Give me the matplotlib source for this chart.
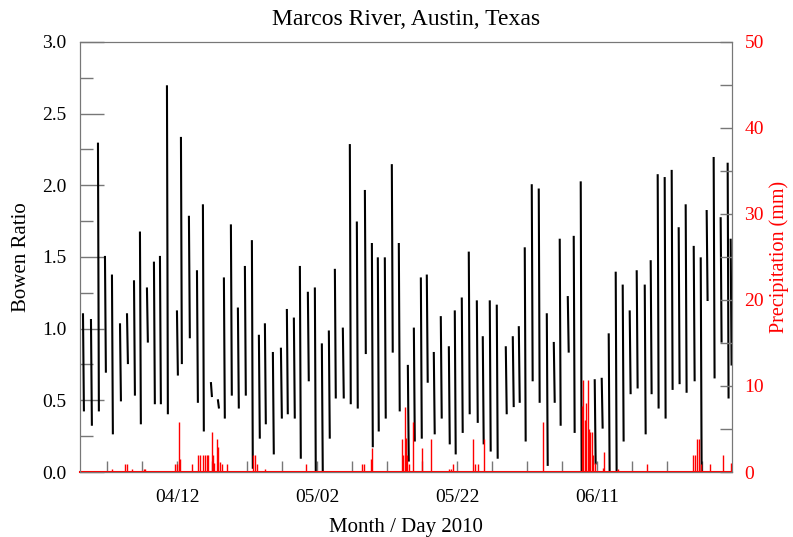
import numpy as np
import pandas as pd
import matplotlib
matplotlib.use("Agg")
import matplotlib.pyplot as plt
import matplotlib.dates as mdates

plt.rcParams['font.family'] = ['Liberation Serif', 'DejaVu Serif']

start = pd.Timestamp('2010-03-29')

# Bowen ratio: one daytime segment per day (days after 03/29, high, low)
seg_t = [0.57, 1.71, 2.71, 3.71, 4.71, 5.86, 6.86, 7.86, 8.71, 9.71, 10.71, 11.57,
         12.57, 14.0, 14.57, 15.71, 16.86, 17.71, 18.86, 19.86, 20.71, 21.71, 22.71,
         23.71, 24.71, 25.71, 26.57, 27.71, 28.86, 29.71, 30.71, 31.57, 32.71, 33.71,
         34.71, 35.71, 36.57, 37.71, 38.71, 39.71, 40.86, 41.86, 42.71, 43.71, 44.71,
         45.71, 47.0, 47.86, 48.86, 49.71, 50.71, 51.71, 52.86, 53.71, 54.71, 55.71,
         56.86, 57.71, 58.71, 59.71, 61.0, 62.0, 62.86, 63.71, 64.71, 65.71, 66.86,
         67.86, 68.71, 69.86, 70.71, 71.71, 73.71, 74.71, 75.71, 76.71, 77.71,
         78.71, 79.71, 80.86, 81.71, 82.71, 83.71, 84.71, 85.71, 86.71, 87.86, 88.86,
         89.71, 90.71, 91.71, 92.71, 93.14]
seg_high = [1.10, 1.06, 2.29, 1.50, 1.37, 1.03, 1.10, 1.33, 1.67, 1.28, 1.46, 1.50,
            2.69, 1.12, 2.33, 1.78, 1.40, 1.86, 0.62, 0.50, 1.35, 1.72, 1.14,
            1.43, 1.61, 0.95, 1.03, 0.83, 0.86, 1.13, 1.07, 1.43, 1.25, 1.28,
            0.89, 0.98, 1.41, 1.00, 2.28, 1.74, 1.96, 1.59, 1.49, 1.49, 2.14,
            1.59, 0.74, 1.00, 1.35, 1.37, 0.83, 1.08, 0.87, 1.12, 1.21, 1.53,
            1.19, 0.94, 1.19, 1.16, 0.87, 0.94, 1.01, 1.56, 2.00, 1.97, 1.10,
            0.90, 1.62, 1.22, 1.64, 2.02, 0.64, 0.65, 0.96, 1.39, 1.30,
            1.12, 1.40, 1.30, 1.47, 2.07, 2.05, 2.10, 1.70, 1.86, 1.57, 1.49,
            1.82, 2.19, 1.77, 2.15, 1.62]
seg_low = [0.43, 0.33, 0.43, 0.70, 0.27, 0.50, 0.76, 0.54, 0.34, 0.91, 0.48, 0.48,
           0.41, 0.68, 0.76, 0.94, 0.49, 0.29, 0.53, 0.45, 0.38, 0.54, 0.45,
           0.54, 0.03, 0.24, 0.34, 0.13, 0.38, 0.41, 0.38, 0.10, 0.64, 0.00,
           0.00, 0.24, 0.52, 0.52, 0.48, 0.45, 0.83, 0.18, 0.29, 0.38, 0.84,
           0.43, 0.08, 0.22, 0.24, 0.63, 0.27, 0.38, 0.20, 0.13, 0.28, 0.41,
           0.35, 0.20, 0.15, 0.10, 0.41, 0.46, 0.49, 0.22, 0.64, 0.49, 0.05,
           0.49, 0.33, 0.84, 0.28, 0.01, 0.06, 0.31, 0.00, 0.00, 0.22,
           0.55, 0.59, 0.27, 0.55, 0.45, 0.38, 0.58, 0.62, 0.56, 0.64, 0.00,
           1.20, 0.66, 0.91, 0.52, 0.75]

# precipitation (days after 03/29, mm)
rain_t = [4.71, 6.57, 6.86, 7.57, 9.29, 9.43, 13.71, 14.0, 14.29, 14.43, 16.14,
          17.0, 17.29, 17.71, 18.0, 18.29, 18.43, 19.0, 19.14, 19.29, 19.71, 19.86,
          20.14, 20.43, 21.14, 22.0, 24.86, 25.14, 25.43, 26.57, 32.43, 40.43, 40.71,
          41.71, 41.86, 46.14, 46.29, 46.57, 46.71, 46.86, 47.14, 47.71, 49.0, 50.29,
          52.86, 53.14, 53.43, 56.29, 56.57, 57.0, 57.86, 66.29, 71.86, 72.0, 72.29,
          72.43, 72.71, 72.86, 73.0, 73.29, 73.43, 73.71, 74.86, 75.0, 77.0, 81.14,
          87.71, 88.0, 88.29, 88.57, 88.86, 90.14, 92.0, 93.14]
rain_mm = [0.35, 0.9, 0.9, 0.4, 0.4, 0.4, 0.9, 0.9, 5.8, 1.5, 0.9,
           2.0, 2.0, 2.0, 2.0, 2.0, 2.0, 4.7, 2.0, 1.0, 3.8, 2.9,
           1.2, 0.9, 0.9, 0.15, 2.0, 2.0, 0.9, 0.4, 0.9, 0.9, 0.9,
           1.5, 2.8, 3.8, 2.0, 7.6, 4.0, 2.0, 0.9, 5.8, 2.8, 3.8,
           0.4, 0.4, 0.9, 3.8, 0.9, 0.9, 3.8, 5.8, 7.7, 10.7, 6.0,
           8.0, 10.7, 5.0, 4.7, 4.7, 2.0, 1.0, 0.5, 2.3, 0.4, 0.9,
           2.0, 2.0, 3.8, 3.8, 0.9, 0.9, 2.0, 1.0]

major_ticks = ['2010-04-12', '2010-05-02', '2010-05-22', '2010-06-11']

# build the segmented line with gaps between days
xs, ys = [], []
for t, hi, lo in zip(seg_t, seg_high, seg_low):
    xs += [t - 0.03, t + 0.1, np.nan]
    ys += [hi, lo, np.nan]
xs = np.array(xs)
xd = [start + pd.Timedelta(days=v) if not np.isnan(v) else pd.NaT for v in xs]
xd = mdates.date2num(pd.to_datetime(xd))

rain_d = mdates.date2num(start + pd.to_timedelta(rain_t, unit='D'))

fig = plt.figure(figsize=(7.93, 5.37), dpi=100)
ax = fig.add_axes([0.101, 0.121, 0.822, 0.801])
ax2 = ax.twinx()

ax.plot(xd, ys, color='black', lw=1.5)

ax2.vlines(rain_d, 0, rain_mm, color='red', lw=1.0)
x0 = mdates.date2num(start + pd.Timedelta(hours=3))
x1 = mdates.date2num(start + pd.Timedelta(days=93, hours=7))
ax2.plot([x0, x1], [0, 0], color='red', lw=1.5, clip_on=False)

ax.set_xlim(x0, x1)
ax.set_ylim(0, 3.0)
ax2.set_ylim(0, 50)

gray = '#777777'
for a in (ax, ax2):
    for s in a.spines.values():
        s.set_color(gray)

ax.set_yticks(np.arange(0, 3.01, 0.5))
ax.set_yticks(np.arange(0.25, 3.0, 0.5), minor=True)
ax.yaxis.set_major_formatter(matplotlib.ticker.FormatStrFormatter('%.1f'))
ax.tick_params(axis='y', which='major', direction='in', length=17, width=1,
               color=gray, labelsize=14, pad=10)
ax.tick_params(axis='y', which='minor', direction='in', length=9, width=1, color=gray)

ax.set_xticks(mdates.date2num(pd.to_datetime(major_ticks)))
ax.set_xticks(mdates.date2num(pd.date_range('2010-04-02', '2010-06-30', freq='5D')),
              minor=True)
ax.xaxis.set_major_formatter(mdates.DateFormatter('%m/%d'))
ax.tick_params(axis='x', which='both', direction='in', length=8, width=1,
               color=gray, labelsize=14, pad=12)

ax2.set_yticks(np.arange(0, 51, 10))
ax2.set_yticks(np.arange(5, 50, 10), minor=True)
ax2.tick_params(axis='y', which='both', direction='in', length=9, width=1,
                color=gray, labelcolor='red', labelsize=14, pad=9)

ax.set_title('Marcos River, Austin, Texas', fontsize=17, pad=12)
ax.set_xlabel('Month / Day 2010', fontsize=15, labelpad=9)
ax.set_ylabel('Bowen Ratio', fontsize=15, labelpad=8)
ax2.set_ylabel('Precipitation (mm)', fontsize=14.5, color='red', labelpad=4)

fig.savefig('out.png', dpi=100)
